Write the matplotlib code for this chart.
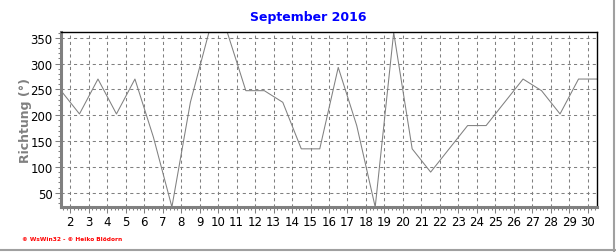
import matplotlib.pyplot as plt
from matplotlib.ticker import MultipleLocator
from matplotlib.lines import Line2D

# wind direction per day, September 2016
days = list(range(1, 31))
richtung = [247.5, 202.5, 270, 202.5, 270, 157.5, 22.5, 225, 360, 360,
            247.5, 247.5, 225, 135, 135, 292.5, 180, 22.5, 360, 135,
            90, 135, 180, 180, 225, 270, 247.5, 202.5, 270, 270]
x_ticks = list(range(2, 31))
y_ticks = [50, 100, 150, 200, 250, 300, 350]

fig = plt.figure(figsize=(6.16, 2.53), dpi=100)
ax = fig.add_axes([61 / 616, 45 / 253, 536 / 616, 175 / 253])

xpos = [d + 0.5 for d in days]
ax.plot(xpos, richtung, '-', color='#808080', linewidth=0.75)

ax.set_xlim(1.5, 30.5)
ax.set_ylim(22.5, 361)
ax.set_xticks(x_ticks)
ax.set_yticks(y_ticks)
ax.xaxis.set_minor_locator(MultipleLocator(0.2))
ax.yaxis.set_minor_locator(MultipleLocator(10))
ax.grid(True, which='major', color='#808080', linestyle=(0, (3, 3)), linewidth=0.75)

ax.tick_params(axis='both', which='major', length=4, width=0.75, color='#808080',
               labelsize=8.5, labelcolor='black', pad=2)
ax.tick_params(axis='both', which='minor', length=2, width=0.75, color='#808080')

for side in ['left', 'bottom']:
    ax.spines[side].set_color('#808080')
    ax.spines[side].set_linewidth(2.2)
for side in ['top', 'right']:
    ax.spines[side].set_color('black')
    ax.spines[side].set_linewidth(1.0)

ax.set_ylabel('Richtung (°)', color='#808080', fontsize=9, fontweight='bold')
ax.yaxis.set_label_coords(-29 / 536, 0.5)

fig.text(308 / 616, 1 - 18 / 253, 'September 2016', color='#0000ff', fontsize=9,
         fontweight='bold', ha='center', va='center')
fig.text(22 / 616, 1 - 240 / 253, '© WsWin32 - © Heiko Blödorn', color='#ff0000',
         fontsize=4.2, fontweight='bold', ha='left', va='center')

# window border
fig.add_artist(Line2D([614 / 616, 614 / 616], [0, 1], transform=fig.transFigure,
                      color='#a0a0a0', linewidth=1.5))
fig.add_artist(Line2D([0, 1], [2 / 253, 2 / 253], transform=fig.transFigure,
                      color='#a0a0a0', linewidth=1.5))

fig.savefig('out.png', dpi=100)
